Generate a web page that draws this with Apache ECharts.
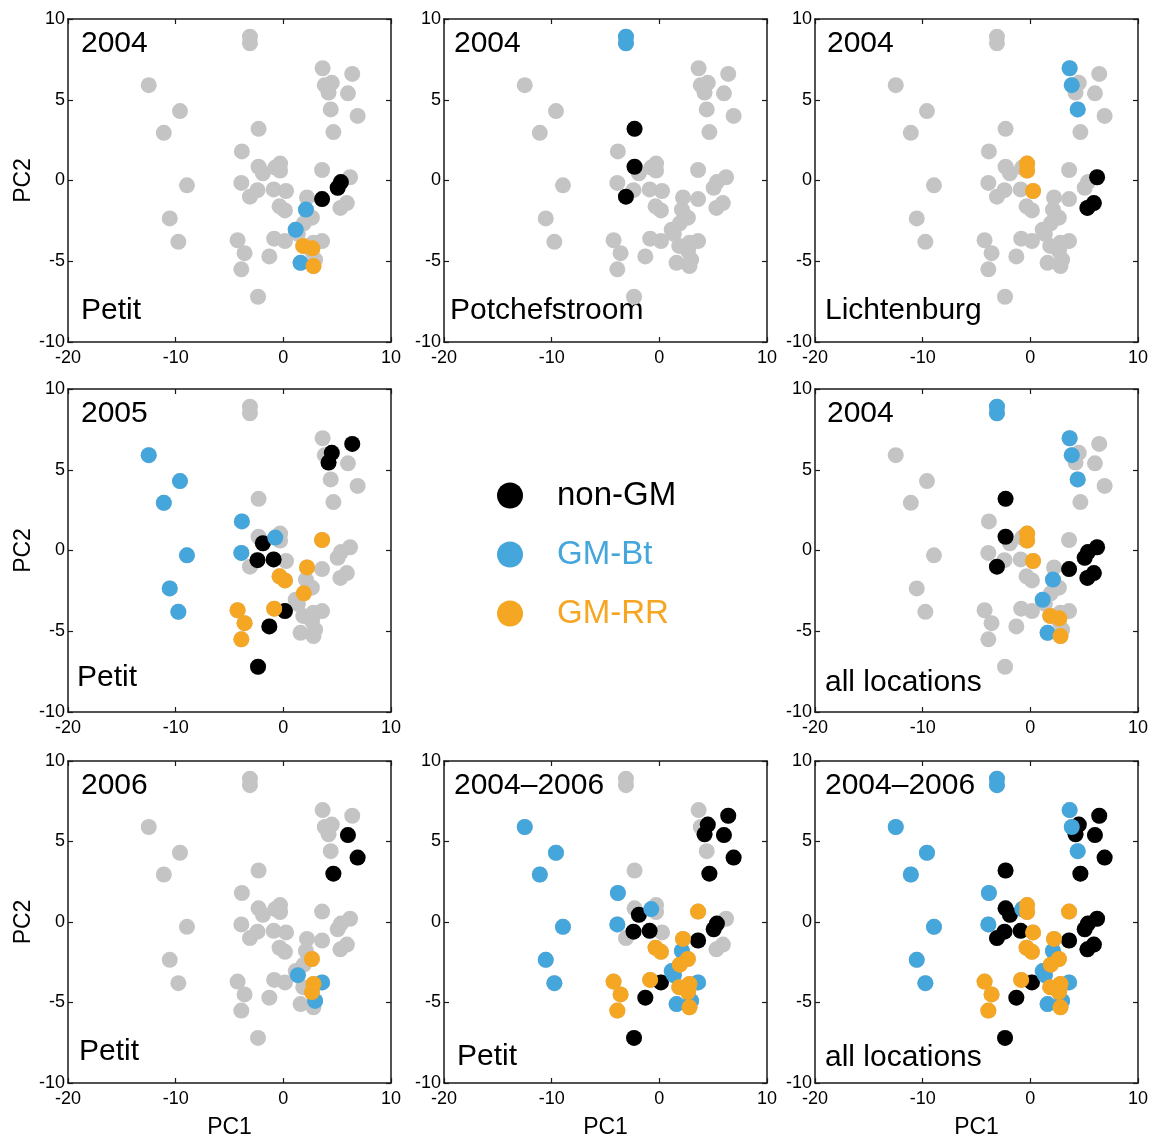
<!DOCTYPE html>
<html>
<head>
<meta charset="utf-8">
<script src="https://cdn.jsdelivr.net/npm/echarts@6/dist/echarts.min.js"></script>
<style>
  html, body { margin: 0; padding: 0; background: #fff; }
  #chart { width: 1155px; height: 1140px; }
</style>
</head>
<body>
<div id="chart"></div>
<script>
// PCA scores [PC1, PC2] of each sample, grouped by site, year and genotype
const PETIT_2004_NONGM = [[3.6, -1.15], [5.05, -0.45], [5.35, -0.1]];
const PETIT_2004_BT    = [[2.1, -1.8], [1.15, -3.05], [1.6, -5.1]];
const PETIT_2004_RR    = [[1.85, -4.05], [2.7, -4.2], [2.8, -5.3]];

const POTCH_2004_NONGM = [[-2.3, 3.2], [-2.3, 0.85], [-3.1, -1.0]];
const POTCH_2004_BT    = [[-3.1, 8.9], [-3.1, 8.5]];

const LICHT_2004_NONGM = [[6.2, 0.2], [5.3, -1.7], [5.9, -1.4]];
const LICHT_2004_BT    = [[3.65, 6.95], [3.85, 5.9], [4.4, 4.4]];
const LICHT_2004_RR    = [[-0.3, 1.05], [-0.3, 0.62], [0.25, -0.65]];

const PETIT_2005_NONGM = [[-1.9, 0.45], [-2.4, -0.6], [-0.9, -0.55], [0.15, -3.75], [-1.3, -4.7],
                          [-2.35, -7.2], [4.2, 5.45], [4.5, 6.05], [6.4, 6.6]];
const PETIT_2005_BT    = [[-12.5, 5.9], [-9.6, 4.3], [-11.1, 2.95], [-8.95, -0.3], [-10.55, -2.35],
                          [-9.75, -3.8], [-3.85, 1.8], [-3.9, -0.15], [-0.75, 0.8]];
const PETIT_2005_RR    = [[3.6, 0.65], [2.2, -1.05], [-0.35, -1.6], [0.15, -1.85], [1.9, -2.65],
                          [-0.85, -3.6], [-4.25, -3.7], [-3.6, -4.5], [-3.9, -5.5]];

const PETIT_2006_NONGM = [[6.0, 5.4], [6.9, 4.0], [4.65, 3.0]];
const PETIT_2006_BT    = [[1.35, -3.3], [3.6, -3.75], [2.95, -4.9]];
const PETIT_2006_RR    = [[2.65, -2.3], [2.8, -3.85], [2.65, -4.35]];

const GENOTYPES = ['non-GM', 'GM-Bt', 'GM-RR'];
const GENOTYPE_COLORS = ['#000000', '#45A6DC', '#F5A623'];
const BACKGROUND_COLOR = '#C4C4C4';

const X_TICKS = [-20, -10, 0, 10];
const Y_TICKS = [-10, -5, 0, 5, 10];

// every sample, shown in grey behind each panel
const ALL_SAMPLES = [].concat(
  PETIT_2004_NONGM, PETIT_2004_BT, PETIT_2004_RR,
  POTCH_2004_NONGM, POTCH_2004_BT,
  LICHT_2004_NONGM, LICHT_2004_BT, LICHT_2004_RR,
  PETIT_2005_NONGM, PETIT_2005_BT, PETIT_2005_RR,
  PETIT_2006_NONGM, PETIT_2006_BT, PETIT_2006_RR
);

// panel contents: highlighted samples per genotype [non-GM, GM-Bt, GM-RR]
const PANELS = [
  { row: 0, col: 0, year: '2004', site: 'Petit',
    sets: [[PETIT_2004_NONGM], [PETIT_2004_BT], [PETIT_2004_RR]] },
  { row: 0, col: 1, year: '2004', site: 'Potchefstroom',
    sets: [[POTCH_2004_NONGM], [POTCH_2004_BT], []] },
  { row: 0, col: 2, year: '2004', site: 'Lichtenburg',
    sets: [[LICHT_2004_NONGM], [LICHT_2004_BT], [LICHT_2004_RR]] },
  { row: 1, col: 0, year: '2005', site: 'Petit',
    sets: [[PETIT_2005_NONGM], [PETIT_2005_BT], [PETIT_2005_RR]] },
  { row: 1, col: 2, year: '2004', site: 'all locations',
    sets: [[PETIT_2004_NONGM, POTCH_2004_NONGM, LICHT_2004_NONGM],
           [PETIT_2004_BT, POTCH_2004_BT, LICHT_2004_BT],
           [PETIT_2004_RR, LICHT_2004_RR]] },
  { row: 2, col: 0, year: '2006', site: 'Petit',
    sets: [[PETIT_2006_NONGM], [PETIT_2006_BT], [PETIT_2006_RR]] },
  { row: 2, col: 1, year: '2004\u20132006', site: 'Petit',
    sets: [[PETIT_2004_NONGM, PETIT_2005_NONGM, PETIT_2006_NONGM],
           [PETIT_2004_BT, PETIT_2005_BT, PETIT_2006_BT],
           [PETIT_2004_RR, PETIT_2005_RR, PETIT_2006_RR]] },
  { row: 2, col: 2, year: '2004\u20132006', site: 'all locations',
    sets: [[PETIT_2004_NONGM, POTCH_2004_NONGM, LICHT_2004_NONGM, PETIT_2005_NONGM, PETIT_2006_NONGM],
           [PETIT_2004_BT, POTCH_2004_BT, LICHT_2004_BT, PETIT_2005_BT, PETIT_2006_BT],
           [PETIT_2004_RR, LICHT_2004_RR, PETIT_2005_RR, PETIT_2006_RR]] }
];

// layout
const FONT = "'Liberation Sans', Arial, Helvetica, sans-serif";
const COL_LEFT = [68, 444, 815];
const ROW_TOP = [19, 389, 761];
const SIZE = 323;
const YEAR_DX = [13, 10, 12, 13, 12, 13, 10, 10];
const SITE_DX = [13, 6, 10, 9, 10, 11, 13, 10];
const SITE_DY = [24, 24, 24, 27, 22, 25, 20, 19];
const AXIS_COLOR = '#1a1a1a';
const DOT = 16;

const grids = [], xAxes = [], yAxes = [], series = [], graphics = [];

PANELS.forEach((p, i) => {
  const left = COL_LEFT[p.col], top = ROW_TOP[p.row];
  grids.push({ left: left, top: top, width: SIZE, height: SIZE, containLabel: false });

  const line = { show: true, onZero: false, lineStyle: { color: AXIS_COLOR, width: 1.5 } };
  const tick = { show: true, inside: true, length: 5, lineStyle: { color: AXIS_COLOR, width: 1.2 } };
  const label = { show: true, color: '#000', fontSize: 18, fontFamily: FONT,
                  showMinLabel: true, showMaxLabel: true };

  xAxes.push({
    type: 'value', gridIndex: i, position: 'bottom',
    min: X_TICKS[0], max: X_TICKS[X_TICKS.length - 1], interval: X_TICKS[1] - X_TICKS[0],
    axisLine: line, axisTick: tick, splitLine: { show: false },
    axisLabel: Object.assign({ margin: 7 }, label),
    name: p.row === 2 ? 'PC1' : '', nameLocation: 'middle', nameGap: 33,
    nameTextStyle: { fontSize: 23, color: '#000', fontFamily: FONT }
  });
  xAxes.push({
    type: 'value', gridIndex: i, position: 'top',
    min: X_TICKS[0], max: X_TICKS[X_TICKS.length - 1], interval: X_TICKS[1] - X_TICKS[0],
    axisLine: line, axisTick: tick, splitLine: { show: false }, axisLabel: { show: false }
  });
  yAxes.push({
    type: 'value', gridIndex: i, position: 'left',
    min: Y_TICKS[0], max: Y_TICKS[Y_TICKS.length - 1], interval: Y_TICKS[1] - Y_TICKS[0],
    axisLine: line, axisTick: tick, splitLine: { show: false },
    axisLabel: Object.assign({ margin: 3 }, label),
    name: p.col === 0 ? 'PC2' : '', nameLocation: 'middle', nameGap: 31,
    nameTextStyle: { fontSize: 23, color: '#000', fontFamily: FONT }
  });
  yAxes.push({
    type: 'value', gridIndex: i, position: 'right',
    min: Y_TICKS[0], max: Y_TICKS[Y_TICKS.length - 1], interval: Y_TICKS[1] - Y_TICKS[0],
    axisLine: line, axisTick: tick, splitLine: { show: false }, axisLabel: { show: false }
  });

  const xi = 2 * i, yi = 2 * i;
  series.push({
    type: 'scatter', name: 'all samples', xAxisIndex: xi, yAxisIndex: yi,
    data: ALL_SAMPLES, symbol: 'circle', symbolSize: DOT,
    itemStyle: { color: BACKGROUND_COLOR, opacity: 1 }, silent: true
  });
  p.sets.forEach((groups, g) => {
    series.push({
      type: 'scatter', name: GENOTYPES[g], xAxisIndex: xi, yAxisIndex: yi,
      data: [].concat(...groups), symbol: 'circle', symbolSize: DOT,
      itemStyle: { color: GENOTYPE_COLORS[g], opacity: 1 }, silent: true
    });
  });

  graphics.push({
    type: 'text', left: left + YEAR_DX[i], top: top + 10,
    style: { text: p.year, font: '30px ' + FONT, fill: '#000' }
  });
  graphics.push({
    type: 'text', left: left + SITE_DX[i], top: top + SIZE - SITE_DY[i] - 22,
    style: { text: p.site, font: '30px ' + FONT, fill: '#000' }
  });
});

const chart = echarts.init(document.getElementById('chart'), null, { renderer: 'canvas' });
chart.setOption({
  animation: false,
  backgroundColor: '#fff',
  grid: grids,
  xAxis: xAxes,
  yAxis: yAxes,
  series: series,
  graphic: graphics,
  tooltip: { show: false },
  legend: {
    orient: 'vertical', left: 492, top: 474,
    itemWidth: 26, itemHeight: 26, itemGap: 26,
    icon: 'circle', selectedMode: false,
    itemStyle: { opacity: 1 },
    data: GENOTYPES.map((name, g) => ({
      name: name,
      itemStyle: { color: GENOTYPE_COLORS[g], opacity: 1 },
      textStyle: { color: GENOTYPE_COLORS[g] }
    })),
    textStyle: { fontSize: 33, fontFamily: FONT, padding: [0, 0, 0, 29] }
  }
});
</script>
</body>
</html>
